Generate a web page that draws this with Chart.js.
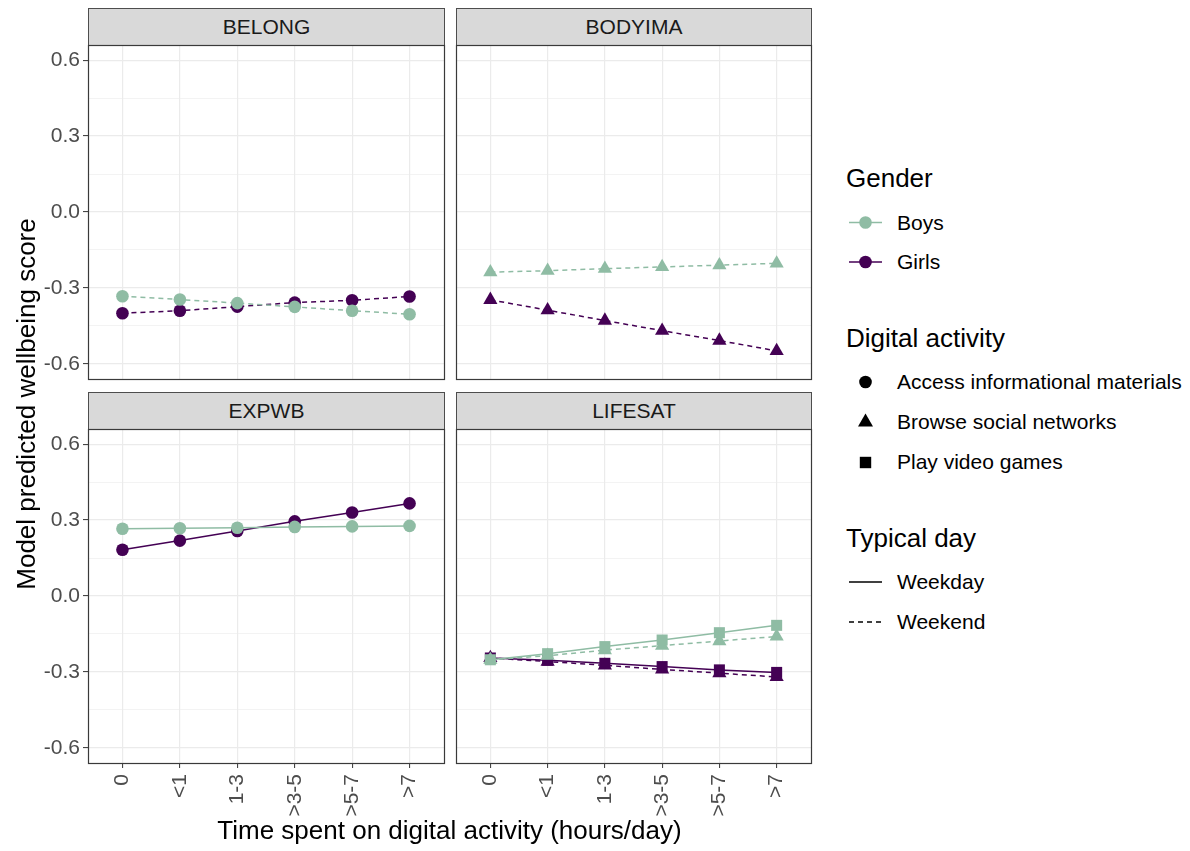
<!DOCTYPE html>
<html>
<head>
<meta charset="utf-8">
<script src="https://cdn.jsdelivr.net/npm/chart.js@4.4.1/dist/chart.umd.min.js"></script>
<style>
  body { margin:0; background:#fff; width:1190px; height:851px; position:relative; overflow:hidden;
         font-family:"Liberation Sans", Arial, sans-serif; }
  canvas { position:absolute; }
  .strip { position:absolute; box-sizing:border-box; border:1px solid #4d4d4d; background:#d9d9d9;
           color:#1a1a1a; font-size:21px; display:flex; align-items:center; justify-content:center; }
  .txt { position:absolute; white-space:nowrap; line-height:30px; height:30px; color:#000; }
</style>
</head>
<body>
<svg id="keys" width="1190" height="851" style="position:absolute;left:0;top:0;pointer-events:none"></svg>
<script>
// ---- data ----
const categories = ['0', '<1', '1-3', '>3-5', '>5-7', '>7'];
const yMajorTicks = [-0.6, -0.3, 0, 0.3, 0.6];
const yMinorTicks = [-0.45, -0.15, 0.15, 0.45];
const yTickLabels = ['-0.6', '-0.3', '0.0', '0.3', '0.6'];

// BELONG: access informational materials, weekend
const belongBoysWeekend  = [-0.333, -0.346, -0.360, -0.375, -0.390, -0.404];
const belongGirlsWeekend = [-0.400, -0.390, -0.374, -0.358, -0.349, -0.334];
// BODYIMA: browse social networks, weekend
const bodyimaBoysWeekend  = [-0.238, -0.232, -0.224, -0.217, -0.210, -0.203];
const bodyimaGirlsWeekend = [-0.347, -0.388, -0.429, -0.469, -0.508, -0.549];
// EXPWB: access informational materials, weekday
const expwbBoysWeekday  = [0.266, 0.268, 0.270, 0.273, 0.275, 0.277];
const expwbGirlsWeekday = [0.183, 0.219, 0.257, 0.295, 0.330, 0.366];
// LIFESAT: video games (weekday) and social networks (weekend)
const lifesatBoysGamesWeekday   = [-0.252, -0.228, -0.200, -0.174, -0.145, -0.116];
const lifesatBoysSocialWeekend  = [-0.252, -0.236, -0.214, -0.196, -0.178, -0.160];
const lifesatGirlsGamesWeekday  = [-0.245, -0.254, -0.266, -0.279, -0.292, -0.302];
const lifesatGirlsSocialWeekend = [-0.245, -0.259, -0.274, -0.290, -0.305, -0.320];

// ---- styling ----
const genderColor = { Boys: '#8fbca4', Girls: '#440154' };
const activityShape = {
  info:   { pointStyle: 'circle',   radius: 6.3 },
  social: { pointStyle: 'triangle', radius: 8.2 },
  games:  { pointStyle: 'rect',     radius: 7.8 }
};
const dayDash = { Weekday: [], Weekend: [5, 4] };

Chart.defaults.font.family = '"Liberation Sans", Arial, sans-serif';

function series(values, gender, activity, day) {
  const c = genderColor[gender], s = activityShape[activity];
  return {
    label: gender + ' ' + activity + ' ' + day,
    data: values.map((v, i) => ({ x: i, y: v })),
    borderColor: c, backgroundColor: c,
    pointBackgroundColor: c, pointBorderColor: c, pointBorderWidth: 0,
    pointStyle: s.pointStyle, pointRadius: s.radius, pointHoverRadius: s.radius,
    borderWidth: 1.5, borderDash: dayDash[day], tension: 0, fill: false
  };
}

const panels = [
  { title: 'BELONG',  l: 88,  t: 45,  r: 444, b: 379, showY: true,  showX: false,
    datasets: [series(belongBoysWeekend, 'Boys', 'info', 'Weekend'),
               series(belongGirlsWeekend, 'Girls', 'info', 'Weekend')] },
  { title: 'BODYIMA', l: 456, t: 45,  r: 811, b: 379, showY: false, showX: false,
    datasets: [series(bodyimaBoysWeekend, 'Boys', 'social', 'Weekend'),
               series(bodyimaGirlsWeekend, 'Girls', 'social', 'Weekend')] },
  { title: 'EXPWB',   l: 88,  t: 429, r: 444, b: 763, showY: true,  showX: true,
    datasets: [series(expwbBoysWeekday, 'Boys', 'info', 'Weekday'),
               series(expwbGirlsWeekday, 'Girls', 'info', 'Weekday')] },
  { title: 'LIFESAT', l: 456, t: 429, r: 811, b: 763, showY: false, showX: true,
    datasets: [series(lifesatBoysGamesWeekday, 'Boys', 'games', 'Weekday'),
               series(lifesatBoysSocialWeekend, 'Boys', 'social', 'Weekend'),
               series(lifesatGirlsGamesWeekday, 'Girls', 'games', 'Weekday'),
               series(lifesatGirlsSocialWeekend, 'Girls', 'social', 'Weekend')] }
];

const isMajor = v => yMajorTicks.some(m => Math.abs(m - v) < 1e-9);

// panel frame drawn over the plotting area
const panelBorder = {
  id: 'panelBorder',
  afterDraw(chart) {
    const { ctx, chartArea: a } = chart;
    ctx.save();
    ctx.strokeStyle = '#3a3a3a';
    ctx.lineWidth = 1.2;
    ctx.strokeRect(Math.round(a.left) + 0.5, Math.round(a.top) + 0.5,
                   Math.round(a.right - a.left), Math.round(a.bottom - a.top));
    ctx.restore();
  }
};

// scales keep exactly the size given, without extra room for label overhang
function fixScale(s, w, h) {
  if (w !== null) s.width = w;
  if (h !== null) s.height = h;
  s.paddingTop = 0; s.paddingBottom = 0; s.paddingLeft = 0; s.paddingRight = 0;
}

const PAD = 3, XAXIS_H = 90;

panels.forEach(p => {
  // strip header
  const strip = document.createElement('div');
  strip.className = 'strip';
  strip.textContent = p.title;
  strip.style.left = p.l + 'px';
  strip.style.top = (p.t - 37) + 'px';
  strip.style.width = (p.r - p.l + 1) + 'px';
  strip.style.height = '38px';
  document.body.appendChild(strip);

  const cv = document.createElement('canvas');
  const left = p.showY ? 0 : p.l - PAD;
  const top = p.t - PAD;
  const width = p.r + PAD - left;
  const height = (p.b - p.t) + PAD + (p.showX ? XAXIS_H : PAD);
  cv.width = width; cv.height = height;
  cv.style.left = left + 'px'; cv.style.top = top + 'px';
  cv.style.width = width + 'px'; cv.style.height = height + 'px';
  document.body.appendChild(cv);

  new Chart(cv, {
    type: 'line',
    data: { datasets: p.datasets },
    plugins: [panelBorder],
    options: {
      responsive: false, animation: false, events: [],
      layout: { autoPadding: false,
                padding: { top: PAD, right: PAD, left: p.showY ? 0 : PAD, bottom: p.showX ? 0 : PAD } },
      plugins: { legend: { display: false }, tooltip: { enabled: false } },
      scales: {
        x: {
          type: 'linear', min: -0.6, max: 5.6,
          afterBuildTicks: s => { s.ticks = categories.map((c, i) => ({ value: i })); },
          afterFit: s => fixScale(s, null, p.showX ? XAXIS_H : 0),
          border: { display: false },
          grid: { color: '#ebebeb', lineWidth: 1.2, drawTicks: p.showX, tickLength: 5,
                  tickColor: '#333333', tickWidth: 1 },
          ticks: { display: p.showX, autoSkip: false, minRotation: 90, maxRotation: 90,
                   padding: 6, color: '#4d4d4d', font: { size: 21 },
                   callback: v => categories[v] }
        },
        y: {
          type: 'linear', min: -0.66, max: 0.66,
          afterBuildTicks: s => {
            s.ticks = yMajorTicks.concat(yMinorTicks).sort((a, b) => a - b).map(v => ({ value: v }));
          },
          afterFit: s => fixScale(s, p.showY ? p.l : 0, null),
          border: { display: false },
          grid: {
            color: '#ebebeb',
            lineWidth: c => isMajor(c.tick.value) ? 1.2 : 0.6,
            drawTicks: p.showY, tickLength: 5, tickWidth: 1,
            tickColor: c => isMajor(c.tick.value) ? '#333333' : 'rgba(0,0,0,0)'
          },
          ticks: {
            display: p.showY, autoSkip: false, padding: 3, color: '#4d4d4d', font: { size: 21 },
            callback: v => {
              const k = yMajorTicks.findIndex(m => Math.abs(m - v) < 1e-9);
              return k >= 0 ? yTickLabels[k] : '';
            }
          }
        }
      }
    }
  });
});

// ---- text helpers ----
function addText(str, x, baseline, size, opts = {}) {
  const d = document.createElement('div');
  d.className = 'txt';
  d.textContent = str;
  d.style.fontSize = size + 'px';
  const center = baseline - 0.3465 * size;
  d.style.top = (center - 15) + 'px';
  if (opts.center) {
    d.style.left = (x - 400) + 'px';
    d.style.width = '800px';
    d.style.textAlign = 'center';
  } else {
    d.style.left = x + 'px';
  }
  if (opts.rotate) d.style.transform = 'rotate(-90deg)';
  document.body.appendChild(d);
  return d;
}

// axis titles
addText('Time spent on digital activity (hours/day)', 449.5, 839.5, 26, { center: true });
addText('Model predicted wellbeing score', 26, 404 + 0.3465 * 26, 26, { center: true, rotate: true });

// legend
const legendTitles = [['Gender', 187.3], ['Digital activity', 347.3], ['Typical day', 547.3]];
legendTitles.forEach(([t, y]) => addText(t, 846, y, 26));
const legendItems = [['Boys', 230], ['Girls', 269.5], ['Access informational materials', 389.5],
                     ['Browse social networks', 429.5], ['Play video games', 469.5],
                     ['Weekday', 589.5], ['Weekend', 629.5]];
legendItems.forEach(([t, y]) => addText(t, 897, y, 21));

const svg = document.getElementById('keys');
const NS = 'http://www.w3.org/2000/svg';
function el(name, attrs) {
  const e = document.createElementNS(NS, name);
  Object.entries(attrs).forEach(([k, v]) => e.setAttribute(k, v));
  svg.appendChild(e);
}
const kx0 = 849, kx1 = 882, kc = 865.5;
[['Boys', 222.5], ['Girls', 262]].forEach(([g, y]) => {
  el('line', { x1: kx0, x2: kx1, y1: y, y2: y, stroke: genderColor[g], 'stroke-width': 1.5 });
  el('circle', { cx: kc, cy: y, r: 6.3, fill: genderColor[g] });
});
el('circle', { cx: kc, cy: 382, r: 6.3, fill: '#000' });
el('polygon', { points: `${kc},413.5 ${kc + 7.5},426.5 ${kc - 7.5},426.5`, fill: '#000' });
el('rect', { x: kc - 5.7, y: 456.8, width: 11.4, height: 11.4, fill: '#000' });
el('line', { x1: kx0, x2: kx1, y1: 582, y2: 582, stroke: '#000', 'stroke-width': 1.5 });
el('line', { x1: kx0, x2: kx1, y1: 622, y2: 622, stroke: '#000', 'stroke-width': 1.5, 'stroke-dasharray': '5 4' });
</script>
</body>
</html>
